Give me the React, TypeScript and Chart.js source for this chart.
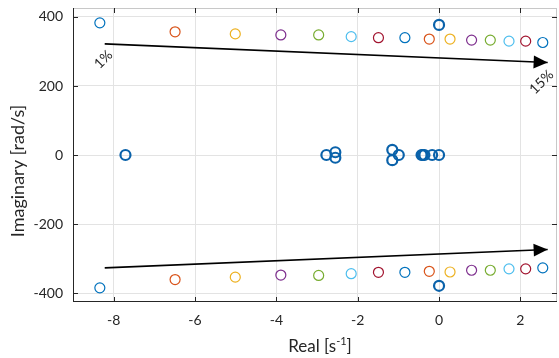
import React, { useEffect, useRef } from 'react';
import { Chart, registerables } from 'chart.js';

Chart.register(...registerables);

// ---- data ----
const seriesColors = ['#0072BD', '#D95319', '#EDB120', '#7E2F8E', '#77AC30', '#4DBEEE', '#A2142F'];
const dampingLabels = ['1%', '2%', '3%', '4%', '5%', '6%', '7%', '8%', '9%', '10%', '11%', '12%', '13%', '14%', '15%'];
const varReal = [-8.34, -6.49, -5.01, -3.89, -2.96, -2.16, -1.49, -0.84, -0.24, 0.27, 0.8, 1.26, 1.72, 2.13, 2.55];
const varImagUpper = [383, 357, 351, 348, 348, 343, 340, 340, 336, 336, 333, 333, 330, 330, 326];
const varImagLower = [-385, -361, -354, -348, -349, -344, -340, -340, -337, -339, -334, -334, -330, -330, -327];

const fixedReal = [-7.71, -2.77, -2.55, -2.55, -1.15, -1.15, -0.99, -0.43, -0.4, -0.36, -0.17, 0.0, 0.0, 0.0];
const fixedImag = [0, 0, 8, -8, 15, -15, 0, 0, 0, 0, 0, 0, 377, -379];

const arrowUpperX = [-8.22, 2.67];
const arrowUpperY = [322, 268];
const arrowLowerX = [-8.22, 2.67];
const arrowLowerY = [-327, -274];

const arrowTexts = ['1%', '15%'];
const arrowTextX = [-8.25, 2.52];
const arrowTextY = [277, 211];

const xTicks = [-8, -6, -4, -2, 0, 2];
const yTicks = [-400, -200, 0, 200, 400];
const xRange = [-9, 2.9];
const yRange = [-426, 426];

const xTitleMain = 'Real [s';
const xTitleSup = '-1';
const xTitleEnd = ']';
const yTitle = 'Imaginary [rad/s]';

const FONT = 'Lato, "Noto Sans", sans-serif';
const AXIS_COLOR = '#262626';
const GRID_COLOR = '#e3e3e3';

const decorPlugin = {
  id: 'decor',
  afterDatasetsDraw(chart: any) {
    const ctx = chart.ctx as CanvasRenderingContext2D;
    const xs = chart.scales.x;
    const ys = chart.scales.y;
    const area = chart.chartArea;

    // arrowheads
    chart.data.datasets.forEach((ds: any, i: number) => {
      if (!ds.isArrow) return;
      const pts = chart.getDatasetMeta(i).data;
      const a = pts[pts.length - 2];
      const b = pts[pts.length - 1];
      const ang = Math.atan2(b.y - a.y, b.x - a.x);
      const len = 14;
      const hw = 6.5;
      ctx.save();
      ctx.fillStyle = '#000';
      ctx.beginPath();
      ctx.moveTo(b.x, b.y);
      ctx.lineTo(b.x - len * Math.cos(ang) + hw * Math.sin(ang), b.y - len * Math.sin(ang) - hw * Math.cos(ang));
      ctx.lineTo(b.x - len * Math.cos(ang) - hw * Math.sin(ang), b.y - len * Math.sin(ang) + hw * Math.cos(ang));
      ctx.closePath();
      ctx.fill();
      ctx.restore();
    });

    // arrow texts
    ctx.save();
    ctx.fillStyle = '#262626';
    ctx.font = '14px ' + FONT;
    ctx.textAlign = 'center';
    ctx.textBaseline = 'middle';
    arrowTexts.forEach((t, i) => {
      const px = xs.getPixelForValue(arrowTextX[i]);
      const py = ys.getPixelForValue(arrowTextY[i]);
      ctx.save();
      ctx.translate(px, py);
      ctx.rotate(-Math.PI / 4);
      ctx.fillText(t, 0, 0);
      ctx.restore();
    });
    ctx.restore();

    // frame
    ctx.save();
    ctx.lineWidth = 1;
    ctx.strokeStyle = '#c8c8c8';
    ctx.beginPath();
    ctx.moveTo(area.left, area.top + 0.5);
    ctx.lineTo(area.right, area.top + 0.5);
    ctx.moveTo(area.right - 0.5, area.top);
    ctx.lineTo(area.right - 0.5, area.bottom);
    ctx.stroke();
    ctx.strokeStyle = AXIS_COLOR;
    ctx.beginPath();
    ctx.moveTo(area.left + 0.5, area.top);
    ctx.lineTo(area.left + 0.5, area.bottom);
    ctx.moveTo(area.left, area.bottom - 0.5);
    ctx.lineTo(area.right, area.bottom - 0.5);
    // inward ticks
    const tl = 5;
    yTicks.forEach((v) => {
      const py = Math.round(ys.getPixelForValue(v)) + 0.5;
      ctx.moveTo(area.left, py);
      ctx.lineTo(area.left + tl, py);
      ctx.moveTo(area.right, py);
      ctx.lineTo(area.right - tl, py);
    });
    xTicks.forEach((v) => {
      const px = Math.round(xs.getPixelForValue(v)) + 0.5;
      ctx.moveTo(px, area.bottom);
      ctx.lineTo(px, area.bottom - tl);
      ctx.moveTo(px, area.top);
      ctx.lineTo(px, area.top + tl);
    });
    ctx.stroke();
    ctx.restore();

    // titles
    ctx.save();
    ctx.fillStyle = AXIS_COLOR;
    ctx.textBaseline = 'alphabetic';
    ctx.font = '17px ' + FONT;
    const w1 = ctx.measureText(xTitleMain).width;
    const w3 = ctx.measureText(xTitleEnd).width;
    ctx.font = '11px ' + FONT;
    const w2 = ctx.measureText(xTitleSup).width;
    const total = w1 + w2 + w3;
    const cx = (area.left + area.right) / 2 + 5;
    const x0 = cx - total / 2;
    const base = 352;
    ctx.textAlign = 'left';
    ctx.font = '17px ' + FONT;
    ctx.fillText(xTitleMain, x0, base);
    ctx.font = '11px ' + FONT;
    ctx.fillText(xTitleSup, x0 + w1, base - 7);
    ctx.font = '17px ' + FONT;
    ctx.fillText(xTitleEnd, x0 + w1 + w2, base);

    ctx.translate(18, (area.top + area.bottom) / 2 + 16);
    ctx.rotate(-Math.PI / 2);
    ctx.textAlign = 'center';
    ctx.textBaseline = 'middle';
    ctx.font = '18px ' + FONT;
    ctx.fillText(yTitle, 0, 0);
    ctx.restore();
  },
};

export default function App() {
  const ref = useRef<HTMLCanvasElement | null>(null);

  useEffect(() => {
    document.body.style.margin = '0';
    const canvas = ref.current;
    if (!canvas) return;

    const datasets: any[] = [];
    dampingLabels.forEach((lab, i) => {
      datasets.push({
        type: 'scatter',
        label: lab,
        data: [
          { x: varReal[i], y: varImagUpper[i] },
          { x: varReal[i], y: varImagLower[i] },
        ],
        borderColor: seriesColors[i % seriesColors.length],
        backgroundColor: 'rgba(0,0,0,0)',
        pointRadius: 5,
        borderWidth: 1.2,
        pointStyle: 'circle',
      });
    });
    datasets.push({
      type: 'scatter',
      label: 'fixed',
      data: fixedReal.map((x, i) => ({ x, y: fixedImag[i] })),
      borderColor: '#0A62AA',
      backgroundColor: 'rgba(0,0,0,0)',
      pointRadius: 5,
      borderWidth: 2.2,
    });
    datasets.push({
      type: 'line',
      label: 'arrowUpper',
      isArrow: true,
      data: arrowUpperX.map((x, i) => ({ x, y: arrowUpperY[i] })),
      borderColor: '#000',
      borderWidth: 1.6,
      pointRadius: 0,
      fill: false,
    });
    datasets.push({
      type: 'line',
      label: 'arrowLower',
      isArrow: true,
      data: arrowLowerX.map((x, i) => ({ x, y: arrowLowerY[i] })),
      borderColor: '#000',
      borderWidth: 1.6,
      pointRadius: 0,
      fill: false,
    });

    const chart = new Chart(canvas, {
      type: 'scatter',
      data: { datasets },
      options: {
        animation: false,
        responsive: false,
        devicePixelRatio: 1,
        layout: { autoPadding: false, padding: { left: 0, right: 2, top: 8, bottom: 0 } },
        plugins: { legend: { display: false }, tooltip: { enabled: false } },
        scales: {
          x: {
            type: 'linear',
            min: xRange[0],
            max: xRange[1],
            afterBuildTicks: (s: any) => {
              s.ticks = xTicks.map((v) => ({ value: v }));
            },
            afterFit: (s: any) => {
              s.height = 56;
              s.paddingLeft = 0;
              s.paddingRight = 0;
              s.paddingTop = 0;
              s.paddingBottom = 0;
            },
            ticks: {
              color: AXIS_COLOR,
              font: { family: FONT, size: 14 },
              padding: 10,
              maxRotation: 0,
              callback: (v: any) => String(v),
            },
            grid: { color: GRID_COLOR, drawTicks: false },
            border: { display: false },
          },
          y: {
            type: 'linear',
            min: yRange[0],
            max: yRange[1],
            afterBuildTicks: (s: any) => {
              s.ticks = yTicks.map((v) => ({ value: v }));
            },
            afterFit: (s: any) => {
              s.width = 73;
              s.paddingLeft = 0;
              s.paddingRight = 0;
              s.paddingTop = 0;
              s.paddingBottom = 0;
            },
            ticks: {
              color: AXIS_COLOR,
              font: { family: FONT, size: 14 },
              padding: 10,
              callback: (v: any) => String(v),
            },
            grid: { color: GRID_COLOR, drawTicks: false },
            border: { display: false },
          },
        },
      },
      plugins: [decorPlugin],
    });

    return () => chart.destroy();
  }, []);

  return (
    <div style={{ width: 559, height: 358 }}>
      <canvas ref={ref} width={559} height={358} style={{ display: 'block' }} />
    </div>
  );
}
